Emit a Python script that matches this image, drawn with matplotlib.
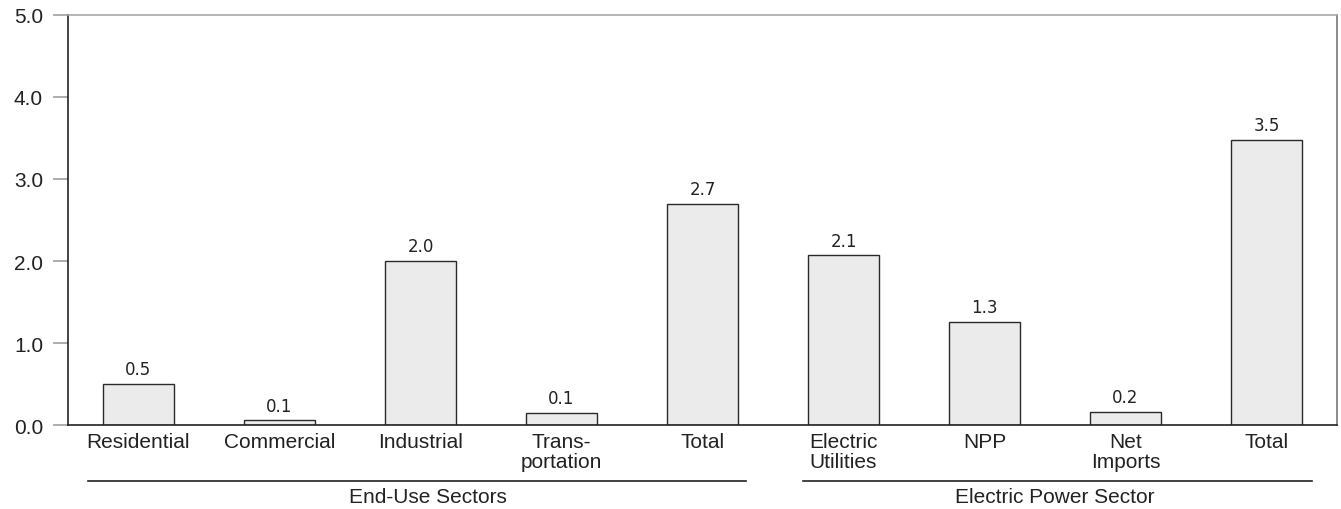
import matplotlib.pyplot as plt
import matplotlib.transforms as mtransforms

categories = ["Residential", "Commercial", "Industrial", "Trans-\nportation", "Total",
              "Electric\nUtilities", "NPP", "Net\nImports", "Total"]
values = [0.50, 0.06, 2.00, 0.15, 2.70, 2.07, 1.26, 0.16, 3.48]
value_labels = ["0.5", "0.1", "2.0", "0.1", "2.7", "2.1", "1.3", "0.2", "3.5"]
yticks = [0.0, 1.0, 2.0, 3.0, 4.0, 5.0]
groups = ["End-Use Sectors", "Electric Power Sector"]
group_spans = [(-0.36, 4.31), (4.71, 8.32)]
group_text_x = [2.05, 6.50]

plt.rcParams['font.family'] = ['Liberation Sans', 'DejaVu Sans']

fig = plt.figure(figsize=(13.41, 5.10), dpi=100)
ax = fig.add_axes([68 / 1341, 1 - 426 / 510, 1269 / 1341, 410 / 510])

x = list(range(len(categories)))
ax.bar(x, values, width=0.5, color="#ebebeb", edgecolor="#2a2a2a", linewidth=1.0, zorder=2)

for xi, v, lab in zip(x, values, value_labels):
    ax.annotate(lab, (xi, v), xytext=(0, 4), textcoords="offset points",
                ha="center", va="bottom", fontsize=12, family="DejaVu Sans", color="#222222")

ax.set_xlim(-0.5, 8.5)
ax.set_ylim(0, 5)
ax.set_yticks(yticks)
ax.set_yticklabels([f"{t:.1f}" for t in yticks], fontsize=15, color="#222222")
ax.set_xticks(x)
ax.set_xticklabels(categories, fontsize=15, color="#222222", linespacing=1.1)
ax.tick_params(axis="y", length=11, width=1.2, color="#a0a0a0", pad=7, direction="out")
ax.tick_params(axis="x", length=0, pad=5)

ax.spines["left"].set_color("#222222")
ax.spines["bottom"].set_color("#222222")
ax.spines["top"].set_color("#a8a8a8")
ax.spines["right"].set_color("#777777")
for s in ax.spines.values():
    s.set_linewidth(1.2)

trans = mtransforms.blended_transform_factory(ax.transData, ax.transAxes)
for name, (x0, x1), tx in zip(groups, group_spans, group_text_x):
    ax.plot([x0, x1], [-0.1366, -0.1366], transform=trans, color="#222222", lw=1.2, clip_on=False)
    ax.text(tx, -0.1756, name, transform=trans, ha="center", va="center",
            fontsize=15, color="#222222")

fig.savefig("out.png", dpi=100)
